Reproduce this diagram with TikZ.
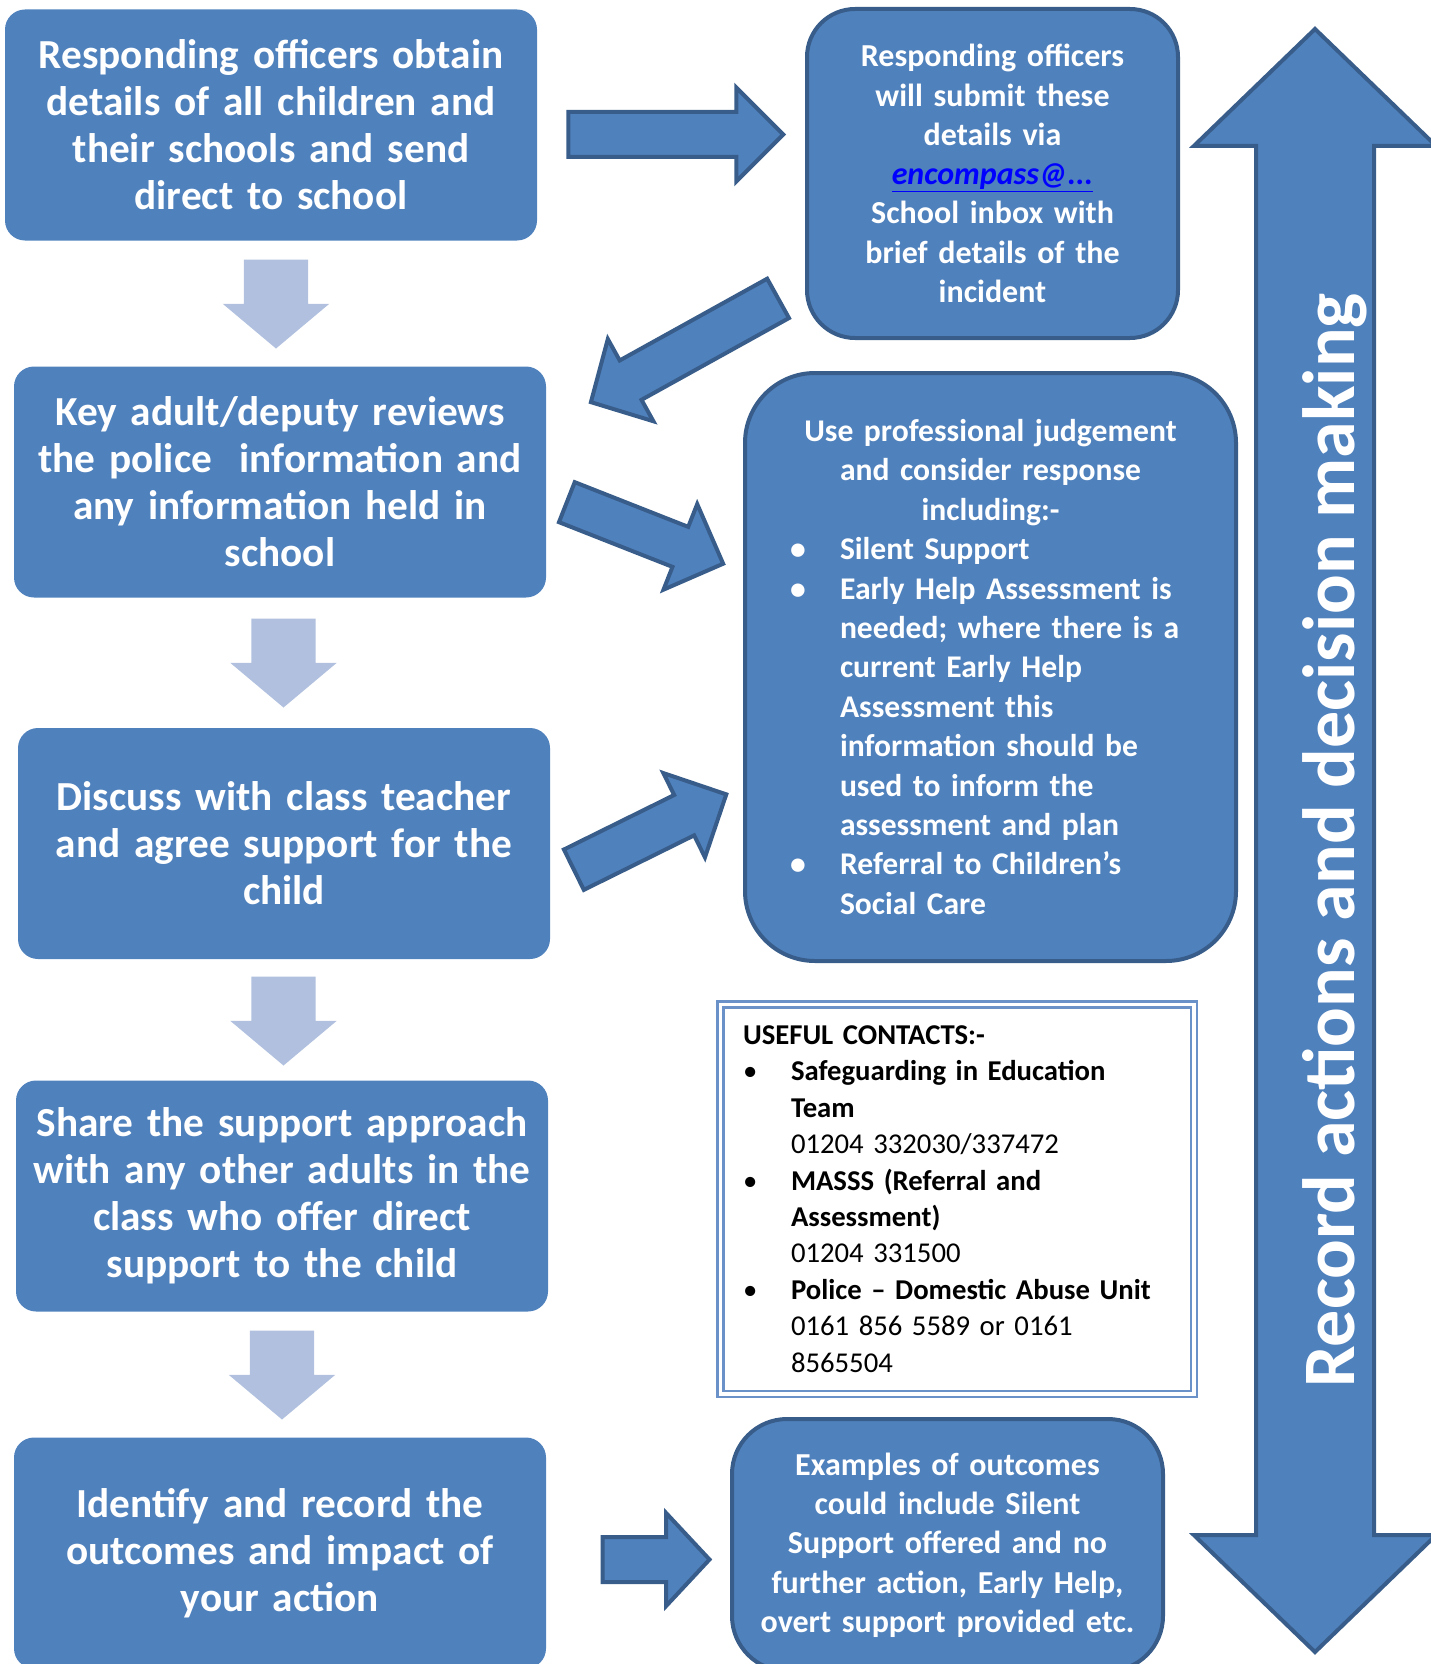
\documentclass[tikz,border=0pt]{standalone}
\usepackage{fontspec}
\setmainfont{Carlito}
\usetikzlibrary{shapes.arrows}
\usetikzlibrary{calc}

\definecolor{boxblue}{HTML}{4F81BD}
\definecolor{edgeblue}{HTML}{385D8A}
\definecolor{paleblue}{HTML}{B0C0DE}
\definecolor{linkblue}{HTML}{0000FF}
\definecolor{frameblue}{HTML}{6A91C8}

\newcommand{\bulletline}[2]{\makebox[\linewidth][l]{\makebox[#1][l]{•}#2}}
\newcommand{\hangline}[2]{\makebox[\linewidth][l]{\hspace*{#1}#2}}

\tikzset{stepbox/.style = {rectangle, rounded corners=20pt, fill=boxblue, minimum width=532pt, minimum height=231pt, text width=520pt, inner sep=0pt, align=center, text=white, font=\fontsize{41.3}{47}\selectfont\bfseries}}
\tikzset{sidebox/.style = {rectangle, draw=edgeblue, line width=4pt, fill=boxblue, inner sep=0pt, align=center, text=white, font=\fontsize{32}{39.3}\selectfont\bfseries}}
\tikzset{contactbox/.style = {rectangle, draw=frameblue, line width=2.5pt, double=white, double distance=3.5pt, fill=white, inner sep=0pt, align=left, text=black, font=\fontsize{28.7}{36.4}\selectfont}}
\tikzset{flowarrow/.style = {single arrow, draw=edgeblue, line width=4pt, fill=boxblue, inner xsep=0pt, inner ysep=20.5pt, single arrow head extend=24.5pt, single arrow tip angle=90}}
\tikzset{downarrow/.style = {single arrow, fill=paleblue, inner xsep=0pt, inner ysep=32pt, rotate=-90, minimum height=89pt, single arrow head extend=21pt, single arrow tip angle=100}}

\begin{document}
\begin{tikzpicture}[x=1pt, y=-1pt]
	\useasboundingbox (0,0) rectangle (1431,1664);

	\node (obtain) 	[stepbox] at (271,125)	{Responding officers obtain\\ details of all children and\\ their schools and send\\ direct to school};
	\node (review) 	[stepbox] at (280,482)	{Key adult/deputy reviews\\ the police\ \ information and\\ any information held in\\ school};
	\node (discuss) [stepbox] at (284,843.5)	{Discuss with class teacher\\ and agree support for the\\ child};
	\node (share) 	[stepbox] at (282,1196)	{Share the support approach\\ with any other adults in the\\ class who offer direct\\ support to the child};
	\node (identify) [stepbox] at (280,1553)	{Identify and record the\\ outcomes and impact of\\ your action};

	\node (submit) 	[sidebox, rounded corners=48pt, minimum width=371pt, minimum height=329pt, text width=360pt] at (992.5,173.5)
		{Responding officers\\ will submit these\\ details via\\ {\color{linkblue}\itshape\underline{encompass@...}}\\ School inbox with\\ brief details of the\\ incident};
	\node (judge) 	[sidebox, rounded corners=70pt, minimum width=491pt, minimum height=588pt, text width=401pt, font=\fontsize{31.6}{39.4}\selectfont\bfseries] at (990.5,667)
		{Use professional judgement\\ and consider response\\ including:-\\
		 \bulletline{50pt}{Silent Support}\\
		 \bulletline{50pt}{Early Help Assessment is}\\ \hangline{50pt}{needed; where there is a}\\ \hangline{50pt}{current Early Help}\\ \hangline{50pt}{Assessment this}\\ \hangline{50pt}{information should be}\\ \hangline{50pt}{used to inform the}\\ \hangline{50pt}{assessment and plan}\\
		 \bulletline{50pt}{Referral to Children’s}\\ \hangline{50pt}{Social Care}};
	\node (contacts) [contactbox, minimum width=473.5pt, minimum height=389.5pt, text width=428pt] at (957,1199)
		{\textbf{USEFUL CONTACTS:-}\\
		 \bulletline{48pt}{\textbf{Safeguarding in Education}}\\ \hangline{48pt}{\textbf{Team}}\\ \hangline{48pt}{01204 332030/337472}\\
		 \bulletline{48pt}{\textbf{MASSS (Referral and}}\\ \hangline{48pt}{\textbf{Assessment)}}\\ \hangline{48pt}{01204 331500}\\
		 \bulletline{48pt}{\textbf{Police -- Domestic Abuse Unit}}\\ \hangline{48pt}{0161 856 5589 or 0161}\\ \hangline{48pt}{8565504}};
	\node (outcome) [sidebox, rounded corners=55pt, minimum width=431pt, minimum height=252pt, text width=420pt] at (947.5,1545)
		{Examples of outcomes\\ could include Silent\\ Support offered and no\\ further action, Early Help,\\ overt support provided etc.};

	\node (down1) [downarrow] at (276,290.5) {};
	\node (down2) [downarrow] at (283.5,649.5) {};
	\node (down3) [downarrow] at (283.5,1007.5) {};
	\node (down4) [downarrow] at (282,1361.5) {};

	\node (tosubmit) 	[flowarrow, minimum height=215pt] at (664.5,134.5) {};
	\node (toreview) 	[flowarrow, rotate=209, minimum height=214pt, single arrow tip angle=92] at (694,345) {};
	\node (tojudge) 	[flowarrow, rotate=-21.5, minimum height=168pt, inner ysep=19.5pt] at (635,529) {};
	\node (fromdiscuss) [flowarrow, rotate=26.3, minimum height=170pt] at (640,837) {};
	\node (tooutcome) 	[flowarrow, minimum height=107pt, single arrow head extend=24pt, single arrow tip angle=94] at (645.5,1559.5) {};

	\node (record) [double arrow, draw=edgeblue, line width=4pt, fill=boxblue, inner xsep=0pt, inner ysep=57pt, rotate=90, minimum height=1623pt, double arrow head extend=62pt, double arrow tip angle=92] at (1315,840.5) {};
	\node (recordtext) [rotate=90, anchor=base, text=white, font=\fontsize{74}{74}\selectfont\bfseries] at (1354,840.5) {Record actions and decision making};
\end{tikzpicture}
\end{document}
